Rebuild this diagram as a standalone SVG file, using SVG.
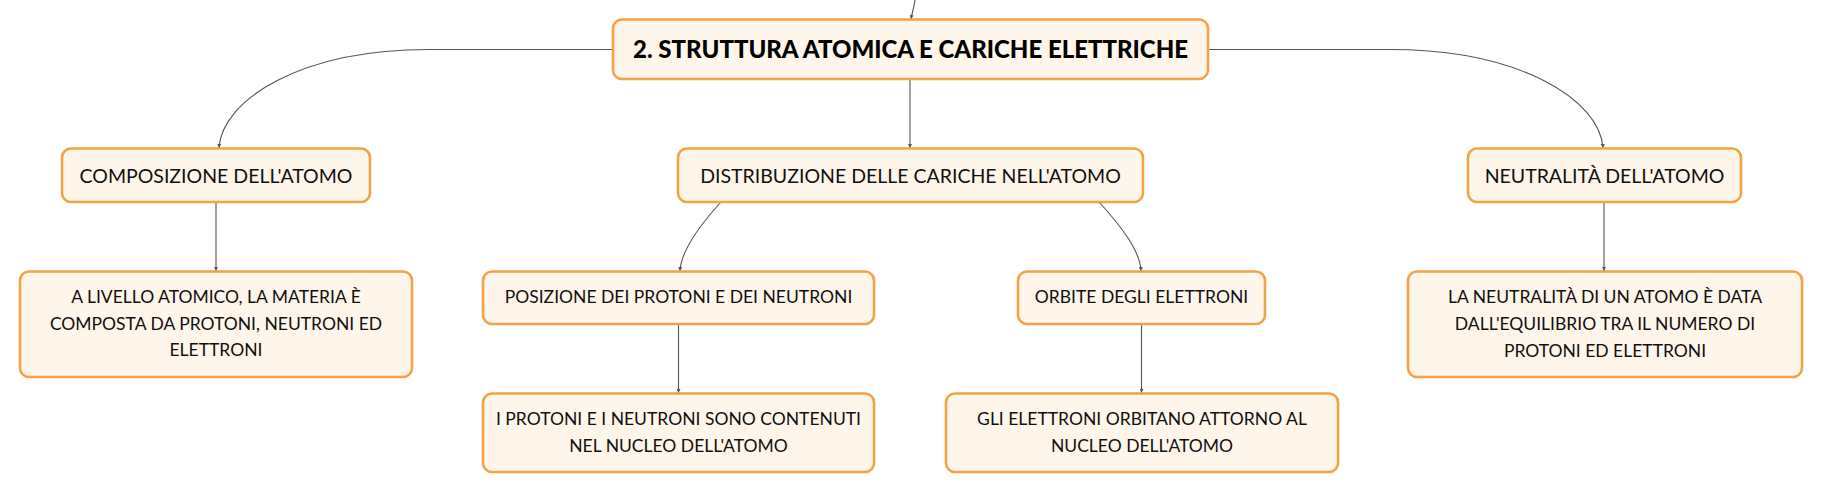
<svg xmlns="http://www.w3.org/2000/svg" width="1821" height="492" viewBox="0 0 1821 492">
<style>
  .box { fill: #FEF5EB; stroke: #F3A346; stroke-width: 2.6; }
  .t { font-family: Lato, "Noto Sans", "Liberation Sans", sans-serif; font-size: 17.5px; fill: #111; text-anchor: middle; }
  .t1 { font-size: 19.5px; }
  .title { font-family: Lato, "Noto Sans", "Liberation Sans", sans-serif; font-size: 24px; font-weight: 900; fill: #000; text-anchor: middle; }
  .c { fill: none; stroke: #555; stroke-width: 1.1; marker-end: url(#arr); }
</style>
<defs>
  <marker id="arr" viewBox="0 0 6 6" refX="6" refY="3" markerWidth="4" markerHeight="4" markerUnits="userSpaceOnUse" orient="auto">
    <path d="M0,0 L6,3 L0,6 z" fill="#555"/>
  </marker>
</defs>
<rect width="1821" height="492" fill="#fff"/>
<g id="connectors">
  <path class="c" d="M915,0 C914,8 912,13 911,19"/>
  <path class="c" d="M612,49.5 L429,49.5 C300,49.5 222,100 219,148"/>
  <path class="c" d="M1208,49.5 L1390,49.5 C1520,49.5 1600,100 1603,148"/>
  <path class="c" d="M910,79 L910,148"/>
  <path class="c" d="M216,202 L216,271"/>
  <path class="c" d="M721,202 C700,225 681,250 680,271"/>
  <path class="c" d="M1099,202 C1120,225 1140,250 1141,271"/>
  <path class="c" d="M678.5,324 L678.5,393"/>
  <path class="c" d="M1141.5,324 L1141.5,393"/>
  <path class="c" d="M1604,202 L1604,271"/>
</g>
<g id="n-main">
  <rect class="box" x="613" y="19.5" width="595" height="59.5" rx="9"/>
  <text class="title" x="910.5" y="58">2. STRUTTURA ATOMICA E CARICHE ELETTRICHE</text>
</g>
<g id="n-composizione">
  <rect class="box" x="62" y="148.5" width="308" height="53.5" rx="9"/>
  <text class="t t1" x="216" y="183">COMPOSIZIONE DELL'ATOMO</text>
</g>
<g id="n-distribuzione">
  <rect class="box" x="678" y="148.5" width="465" height="53.5" rx="9"/>
  <text class="t t1" x="910.5" y="183">DISTRIBUZIONE DELLE CARICHE NELL'ATOMO</text>
</g>
<g id="n-neutralita">
  <rect class="box" x="1468" y="148.5" width="273" height="53.5" rx="9"/>
  <text class="t t1" x="1604.5" y="183">NEUTRALITÀ DELL'ATOMO</text>
</g>
<g id="n-livello">
  <rect class="box" x="20" y="271.5" width="392" height="105.5" rx="9"/>
  <text class="t" x="216" y="303">A LIVELLO ATOMICO, LA MATERIA È</text>
  <text class="t" x="216" y="329.5">COMPOSTA DA PROTONI, NEUTRONI ED</text>
  <text class="t" x="216" y="356">ELETTRONI</text>
</g>
<g id="n-posizione">
  <rect class="box" x="483" y="271.5" width="391" height="52.5" rx="9"/>
  <text class="t" x="678.5" y="303">POSIZIONE DEI PROTONI E DEI NEUTRONI</text>
</g>
<g id="n-orbite">
  <rect class="box" x="1018" y="271.5" width="247" height="52.5" rx="9"/>
  <text class="t" x="1141.5" y="303">ORBITE DEGLI ELETTRONI</text>
</g>
<g id="n-equilibrio">
  <rect class="box" x="1408" y="271.5" width="394" height="105.5" rx="9"/>
  <text class="t" x="1605" y="303">LA NEUTRALITÀ DI UN ATOMO È DATA</text>
  <text class="t" x="1605" y="330">DALL'EQUILIBRIO TRA IL NUMERO DI</text>
  <text class="t" x="1605" y="357">PROTONI ED ELETTRONI</text>
</g>
<g id="n-nucleo">
  <rect class="box" x="483" y="393.5" width="391" height="78.5" rx="9"/>
  <text class="t" x="678.5" y="425">I PROTONI E I NEUTRONI SONO CONTENUTI</text>
  <text class="t" x="678.5" y="452">NEL NUCLEO DELL'ATOMO</text>
</g>
<g id="n-orbitano">
  <rect class="box" x="946" y="393.5" width="392" height="78.5" rx="9"/>
  <text class="t" x="1142" y="425">GLI ELETTRONI ORBITANO ATTORNO AL</text>
  <text class="t" x="1142" y="452">NUCLEO DELL'ATOMO</text>
</g>
</svg>
